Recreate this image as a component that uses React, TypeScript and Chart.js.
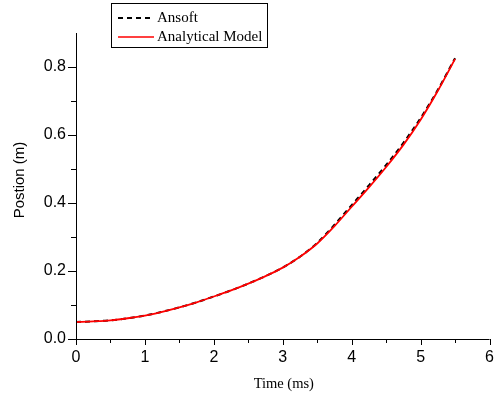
import React, { useEffect, useRef } from "react";
import { Chart, registerables } from "chart.js";

Chart.register(...registerables);

const timeMs = [0, 0.25, 0.5, 0.75, 1.0, 1.25, 1.5, 1.75, 2.0, 2.25, 2.5, 2.75, 3.0, 3.25, 3.5, 3.75, 4.0, 4.25, 4.5, 4.75, 5.0, 5.25, 5.5];
const analytical = [0.050, 0.052, 0.055, 0.061, 0.069, 0.080, 0.093, 0.108, 0.125, 0.143, 0.163, 0.185, 0.210, 0.242, 0.281, 0.332, 0.389, 0.446, 0.506, 0.571, 0.645, 0.730, 0.824];
const ansoft = [0.050, 0.052, 0.055, 0.061, 0.069, 0.080, 0.093, 0.108, 0.125, 0.143, 0.163, 0.185, 0.210, 0.242, 0.283, 0.336, 0.394, 0.452, 0.512, 0.577, 0.650, 0.733, 0.826];
const xTicks = [0, 1, 2, 3, 4, 5, 6];
const xMinorTicks = [0.5, 1.5, 2.5, 3.5, 4.5, 5.5];
const yTicks = [0, 0.2, 0.4, 0.6, 0.8];
const yMinorTicks = [0.1, 0.3, 0.5, 0.7];
const seriesNames = ["Ansoft", "Analytical Model"];
const xTitle = "Time (ms)";
const yTitle = "Postion (m)";

const decorPlugin = {
  id: "decor",
  afterDraw(chart: any) {
    const ctx = chart.ctx;
    const xs = chart.scales.x;
    const ys = chart.scales.y;
    const area = chart.chartArea;
    ctx.save();
    ctx.strokeStyle = "#000";
    ctx.lineWidth = 1;
    ctx.beginPath();
    ctx.moveTo(Math.round(area.left) + 0.5, area.top);
    ctx.lineTo(Math.round(area.left) + 0.5, area.bottom + 0.5);
    ctx.moveTo(area.left, Math.round(area.bottom) + 0.5);
    ctx.lineTo(area.right, Math.round(area.bottom) + 0.5);
    xTicks.forEach((v) => {
      const px = Math.round(xs.getPixelForValue(v)) + 0.5;
      ctx.moveTo(px, area.bottom);
      ctx.lineTo(px, area.bottom + 6);
    });
    xMinorTicks.forEach((v) => {
      const px = Math.round(xs.getPixelForValue(v)) + 0.5;
      ctx.moveTo(px, area.bottom);
      ctx.lineTo(px, area.bottom + 4);
    });
    yTicks.forEach((v) => {
      const py = Math.round(ys.getPixelForValue(v)) + 0.5;
      ctx.moveTo(area.left, py);
      ctx.lineTo(area.left - 8, py);
    });
    yMinorTicks.forEach((v) => {
      const py = Math.round(ys.getPixelForValue(v)) + 0.5;
      ctx.moveTo(area.left, py);
      ctx.lineTo(area.left - 5, py);
    });
    ctx.stroke();

    ctx.fillStyle = "#000";
    ctx.font = "14.5px 'Liberation Serif', 'Times New Roman', serif";
    ctx.textAlign = "center";
    ctx.textBaseline = "alphabetic";
    ctx.fillText(xTitle, (area.left + area.right) / 2 + 1, 388);
    ctx.save();
    ctx.translate(24, 180);
    ctx.rotate(-Math.PI / 2);
    ctx.font = "15px 'Liberation Sans', Arial, sans-serif";
    ctx.fillText(yTitle, 0, 0);
    ctx.restore();

    const bx = 111, by = 3, bw = 156, bh = 44;
    ctx.strokeStyle = "#000";
    ctx.lineWidth = 1;
    ctx.strokeRect(bx + 0.5, by + 0.5, bw, bh);
    const rows = [18, 37];
    ctx.lineWidth = 2;
    ctx.strokeStyle = "#000";
    ctx.setLineDash([5, 4]);
    ctx.beginPath();
    ctx.moveTo(118, rows[0]);
    ctx.lineTo(154, rows[0]);
    ctx.stroke();
    ctx.setLineDash([]);
    ctx.strokeStyle = "#ff0000";
    ctx.lineWidth = 1.5;
    ctx.beginPath();
    ctx.moveTo(118, rows[1]);
    ctx.lineTo(154, rows[1]);
    ctx.stroke();
    ctx.font = "15px 'Liberation Serif', 'Times New Roman', serif";
    ctx.textAlign = "left";
    ctx.textBaseline = "middle";
    ctx.fillStyle = "#000";
    ctx.fillText(seriesNames[0], 157, rows[0]);
    ctx.fillText(seriesNames[1], 157, rows[1]);
    ctx.restore();
  },
};

export default function App() {
  const canvasRef = useRef<HTMLCanvasElement | null>(null);

  useEffect(() => {
    if (!canvasRef.current) return;
    const chart = new Chart(canvasRef.current, {
      type: "line",
      data: {
        labels: timeMs,
        datasets: [
          {
            label: seriesNames[1],
            data: timeMs.map((t, i) => ({ x: t, y: analytical[i] })),
            borderColor: "#ff0000",
            borderWidth: 1.8,
            pointRadius: 0,
            fill: false,
            cubicInterpolationMode: "monotone",
          },
          {
            label: seriesNames[0],
            data: timeMs.map((t, i) => ({ x: t, y: ansoft[i] })),
            borderColor: "#000000",
            borderWidth: 2,
            borderDash: [5, 4],
            pointRadius: 0,
            fill: false,
            cubicInterpolationMode: "monotone",
          },
        ],
      },
      options: {
        animation: false,
        responsive: true,
        maintainAspectRatio: false,
        layout: { padding: { left: 0, right: 6, top: 33, bottom: 0 } },
        plugins: {
          legend: { display: false },
          tooltip: { enabled: false },
        },
        scales: {
          x: {
            type: "linear",
            min: 0,
            max: 6,
            afterBuildTicks: (scale: any) => {
              scale.ticks = xTicks.map((v) => ({ value: v }));
            },
            afterFit: (scale: any) => {
              scale.height = 55;
            },
            grid: { display: true, drawOnChartArea: false, drawTicks: true, tickLength: 6, color: "rgba(0,0,0,0)" },
            border: { display: false },
            ticks: {
              autoSkip: false,
              maxRotation: 0,
              padding: 3,
              color: "#000",
              font: { family: "'Liberation Sans', Arial, sans-serif", size: 16 },
              callback: (v: any) => String(v),
            },
          },
          y: {
            type: "linear",
            min: 0,
            max: 0.9,
            afterBuildTicks: (scale: any) => {
              scale.ticks = yTicks.map((v) => ({ value: v }));
            },
            afterFit: (scale: any) => {
              scale.width = 76;
            },
            grid: { display: true, drawOnChartArea: false, drawTicks: true, tickLength: 8, color: "rgba(0,0,0,0)" },
            border: { display: false },
            ticks: {
              autoSkip: false,
              padding: 2,
              color: "#000",
              font: { family: "'Liberation Sans', Arial, sans-serif", size: 16 },
              callback: (v: any) => Number(v).toFixed(1),
            },
          },
        },
      },
      plugins: [decorPlugin],
    });
    return () => chart.destroy();
  }, []);

  return (
    <div style={{ position: "absolute", left: 0, top: 0, width: 497, height: 394, background: "#fff" }}>
      <canvas ref={canvasRef} />
    </div>
  );
}
